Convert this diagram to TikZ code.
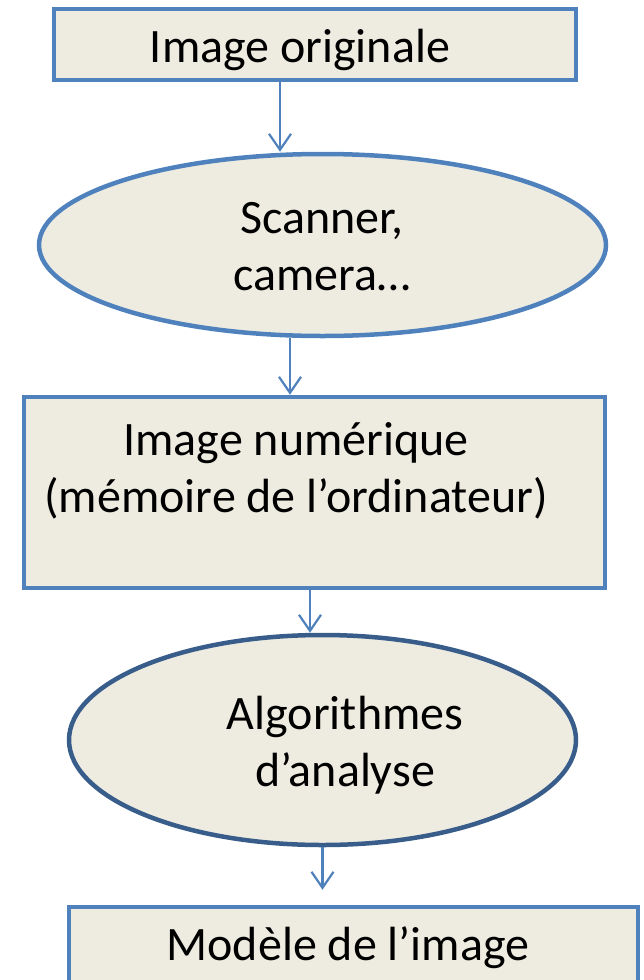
\documentclass[tikz,border=0pt]{standalone}
\usepackage{fontspec}
\setmainfont{Carlito}
\usepackage{tikz}
\usetikzlibrary{shapes.geometric,arrows.meta,calc}
\definecolor{boxfill}{HTML}{EEECE1}
\definecolor{boxline}{HTML}{4F81BD}
\definecolor{darkline}{HTML}{385D8A}
\tikzset{
    block/.style={
        rectangle,
        draw=boxline,
        fill=boxfill,
        line width=4.5pt
    },
    oval/.style={
        ellipse,
        draw=boxline,
        fill=boxfill,
        line width=4.5pt
    },
    txt/.style={
        align=center,
        inner sep=0pt,
        font=\fontsize{48}{57}\selectfont
    },
    flow/.style={
        draw=boxline,
        line width=2.2pt,
        -{Straight Barb[length=16pt,width=22pt]}
    }
}
\begin{document}
\begin{tikzpicture}[x=1pt, y=-1pt]
    \useasboundingbox (0,0) rectangle (644,980);
    \clip (0,0) rectangle (644,980);

    \node (originale) [block, minimum width=522pt, minimum height=71pt] at (315,44.5) {};
    \node (scanner) [oval, minimum width=567pt, minimum height=182pt] at (322.5,245) {};
    \node (numerique) [block, minimum width=581pt, minimum height=191pt] at (314.5,492.5) {};
    \node (analyse) [oval, draw=darkline, minimum width=507pt, minimum height=210pt] at (322.5,740) {};
    \node (modele) [block, minimum width=569pt, minimum height=120pt] at (353.5,967) {};

    % texts (base = last line)
    \node (originale-t) [txt, anchor=base] at (300,62) {Image originale};
    \node (scanner-t) [txt, anchor=base] at (322,290) {Scanner,\\camera…};
    \node (numerique-t) [txt, anchor=base] at (296,512) {Image numérique\\(mémoire de l’ordinateur)};
    \node (analyse-t) [txt, anchor=base] at (345,786) {Algorithmes\\d’analyse};
    \node (modele-t) [txt, anchor=base] at (348,960) {Modèle de l’image};

    \draw [flow] ([xshift=-35pt]originale.south) -- ([xshift=-35pt]originale.south |- scanner.north);
    \draw [flow] ([xshift=-32.5pt]scanner.south) -- ([xshift=-32.5pt]scanner.south |- numerique.north);
    \draw [flow] ([xshift=-4.5pt]numerique.south) -- ([xshift=-4.5pt]numerique.south |- analyse.north);
    \draw [flow, shorten >=15pt] (analyse.south) -- (analyse.south |- modele.north);
\end{tikzpicture}
\end{document}
